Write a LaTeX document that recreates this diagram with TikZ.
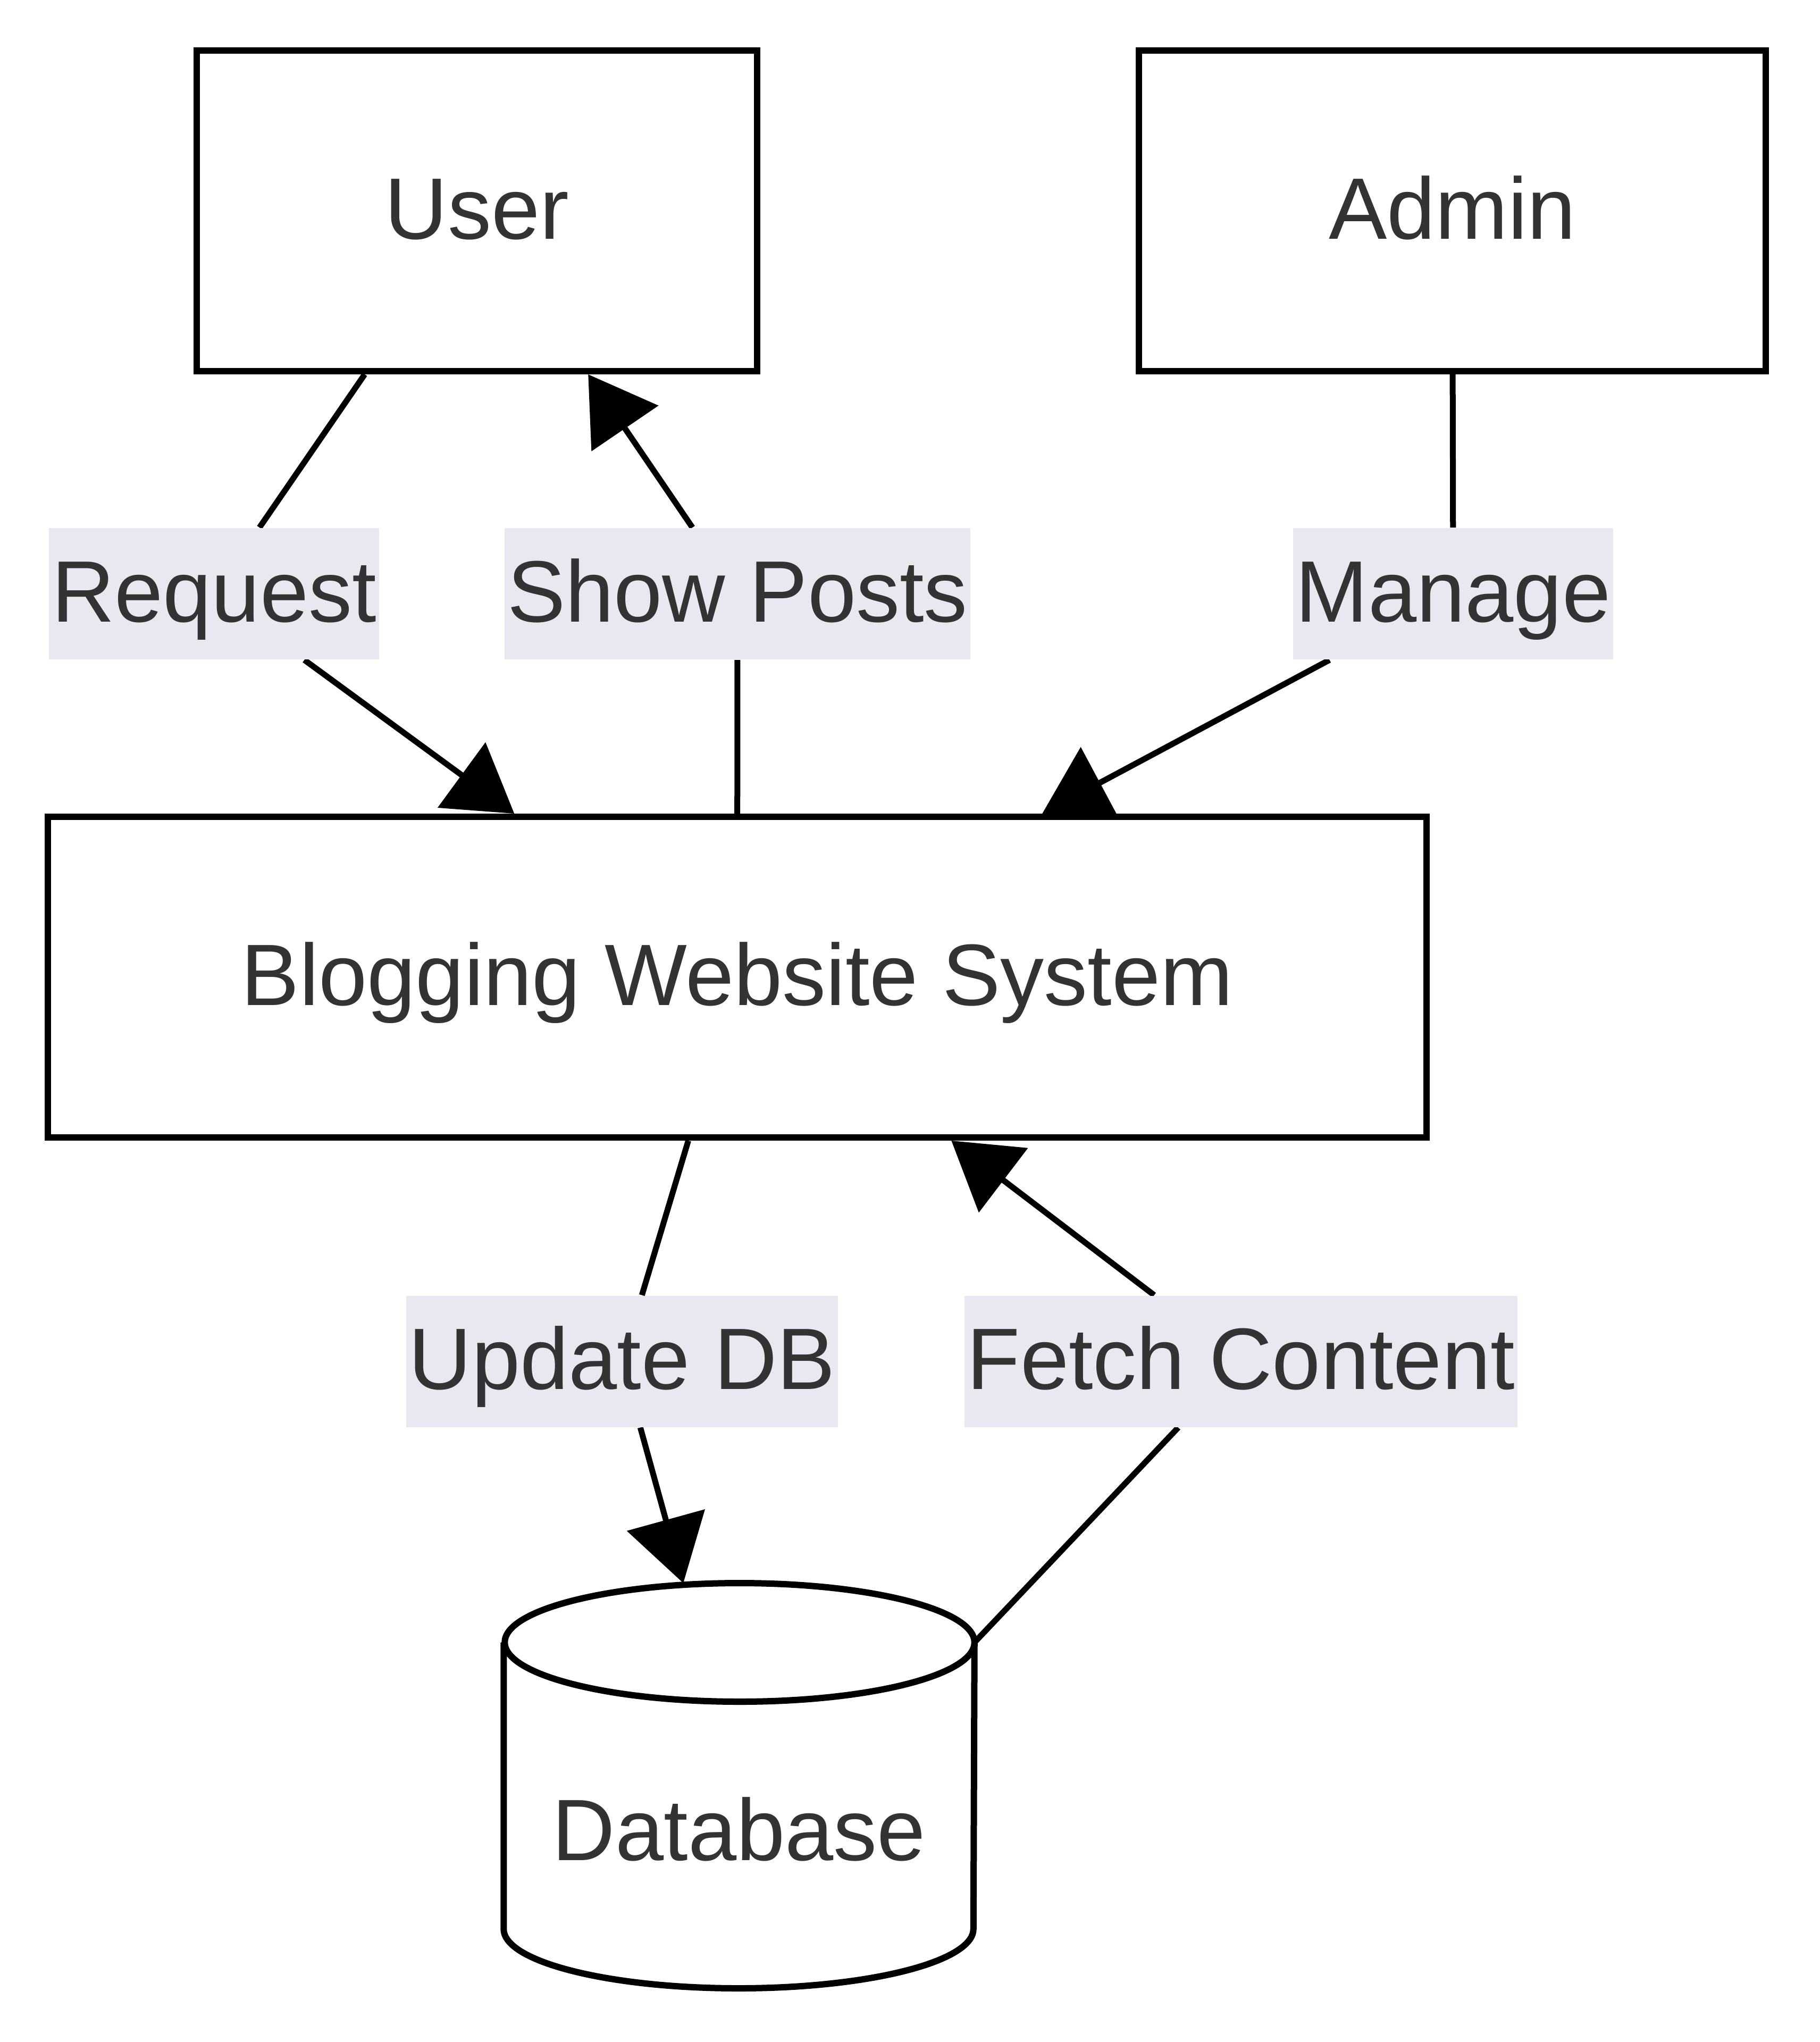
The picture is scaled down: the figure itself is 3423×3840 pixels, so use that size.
\documentclass[tikz,border=0pt]{standalone}
\usepackage{fontspec}
\setmainfont{Liberation Sans}
\usetikzlibrary{arrows.meta,backgrounds}
\definecolor{ink}{HTML}{333333}
\definecolor{lblbg}{HTML}{E8E8F0}

\begin{document}
\begin{tikzpicture}[x=0.2pt,y=-0.2pt,
	every node/.style={text=ink,font=\fontsize{32.8pt}{39pt}\selectfont},
	box/.style={draw=black,fill=white,line width=2.4pt,minimum height=120.6pt,text height=23.5pt,text depth=2.3pt},
	lbl/.style={fill=lblbg,inner xsep=1pt,inner ysep=0pt,text height=35.2pt,text depth=14.2pt},
	flow/.style={draw=black,line width=2.2pt,-{Triangle[length=24.6pt,width=30pt]}},
	rim/.style={x radius=88.35pt,y radius=22.3pt}]
	\useasboundingbox (0,0) rectangle (3423,3840);
	\node[box,minimum width=210.8pt] (user) at (897,396.5) {User};
	\node[box,minimum width=235.8pt] (admin) at (2731.5,396.5) {Admin};
	\node[box,minimum width=518.6pt] (blog) at (1386.5,1837.5) {Blogging Website System};
	\node[minimum width=176.7pt,minimum height=152pt,inner sep=0pt,text height=56pt,text depth=0pt] (db) at (1390,3358) {Database};
	\node[lbl] (req) at (402.5,1116.5) {Request};
	\node[lbl] (show) at (1387,1116.5) {Show Posts};
	\node[lbl] (mng) at (2733,1116.5) {Manage};
	\node[lbl] (upd) at (1170,2560) {Update DB};
	\node[lbl] (fetch) at (2334,2560) {Fetch Content};
	\begin{scope}[on background layer]
		\draw[line width=2.4pt,fill=white] ([yshift=-22.3pt]db.north west) -- ([yshift=22.3pt]db.south west)
			arc[start angle=180,end angle=360,rim] -- ([yshift=-22.3pt]db.north east)
			arc[start angle=0,end angle=180,rim] arc[start angle=180,end angle=360,rim];
		\draw[flow] (user) -- (req) -- (blog);
		\draw[flow] (blog) -- (show) -- (user);
		\draw[flow] (admin) -- (mng) -- (blog);
		\draw[flow] (blog) -- (upd) -- (db);
		\draw[flow] ([yshift=-22.3pt]db.north east) -- (fetch) -- (blog);
	\end{scope}
\end{tikzpicture}
\end{document}
